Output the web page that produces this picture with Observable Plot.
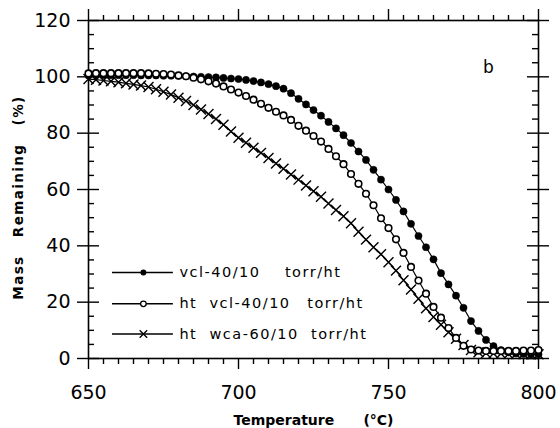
<!DOCTYPE html>
<html>
<head>
<meta charset="utf-8">
<script src="https://cdn.jsdelivr.net/npm/d3@7"></script>
<script src="https://cdn.jsdelivr.net/npm/@observablehq/plot@0.6"></script>
<style>
  html, body { margin: 0; padding: 0; background: #fff; }
  #chart svg { display: block; }
  #chart svg g[font-size="14.5"] text { letter-spacing: 1.5px; }
  #chart svg g[font-size="13.5"] text { letter-spacing: 1.4px; }
</style>
</head>
<body>
<div id="chart"></div>
<script>
// Temperatures (°C) at which the curves are sampled
const temps = [650, 652.5, 655, 657.5, 660, 662.5, 665, 667.5, 670, 672.5,
  675, 677.5, 680, 682.5, 685, 687.5, 690, 692.5, 695, 697.5,
  700, 702.5, 705, 707.5, 710, 712.5, 715, 717.5, 720, 722.5,
  725, 727.5, 730, 732.5, 735, 737.5, 740, 742.5, 745, 747.5,
  750, 752.5, 755, 757.5, 760, 762.5, 765, 767.5, 770, 772.5,
  775, 777.5, 780, 782.5, 785, 787.5, 790, 792.5, 795, 797.5, 800];

// Mass remaining (%) — vcl-40/10 torr/ht (filled circles)
const massVcl = [100.5, 100.6, 100.6, 100.6, 100.6, 100.6, 100.6, 100.5, 100.5, 100.5,
  100.4, 100.4, 100.3, 100.2, 100.1, 100.0, 99.9, 99.8, 99.6, 99.4,
  99.2, 98.9, 98.5, 98.0, 97.4, 96.7, 95.8, 94.2, 92.2, 90.2,
  88.2, 86.2, 84.0, 81.7, 79.3, 76.5, 73.5, 70.5, 67.0, 63.5,
  60.0, 56.3, 52.2, 47.8, 43.5, 39.5, 35.2, 30.3, 26.3, 22.3,
  18.0, 13.3, 9.8, 6.6, 4.4, 3.0, 2.2, 1.8, 1.6, 1.5, 1.5];

// Mass remaining (%) — ht vcl-40/10 torr/ht (open circles)
const massHtVcl = [101.2, 101.3, 101.3, 101.3, 101.3, 101.3, 101.3, 101.3, 101.2, 101.1,
  101.0, 100.8, 100.5, 100.2, 99.7, 99.1, 98.4, 97.6, 96.6, 95.5,
  94.4, 93.2, 91.9, 90.4, 89.0, 87.6, 86.3, 84.7, 82.6, 80.9,
  79.0, 77.0, 74.4, 71.8, 69.0, 65.5, 62.0, 58.5, 54.4, 49.8,
  46.3, 42.3, 37.5, 32.5, 27.7, 23.0, 18.3, 14.5, 10.8, 7.3,
  4.5, 3.2, 2.8, 2.7, 2.7, 2.7, 2.7, 2.7, 2.8, 2.8, 3.0];

// Mass remaining (%) — ht wca-60/10 torr/ht (crosses)
const massHtWca = [99.2, 99.0, 98.7, 98.4, 98.1, 97.7, 97.3, 96.9, 96.4, 95.6,
  94.7, 93.7, 92.6, 91.4, 90.0, 88.4, 86.8, 85.0, 83.0, 80.6,
  78.4, 76.6, 74.8, 73.0, 71.2, 69.2, 67.4, 65.3, 63.5, 61.4,
  59.4, 57.4, 55.0, 52.7, 50.5, 48.0, 45.0, 42.2, 39.5, 37.0,
  34.2, 31.2, 27.8, 24.5, 21.2, 17.8, 14.7, 12.0, 9.3, 7.0,
  4.8, 3.0, 2.2, 1.9, 1.8, 1.7, 1.6, 1.6, 1.5, 1.5, 1.5];

// Tick values
const xMajor = [650, 700, 750, 800];
const xMinor = [655, 660, 665, 670, 675, 680, 685, 690, 695, 705, 710, 715, 720, 725, 730, 735, 740, 745,
  755, 760, 765, 770, 775, 780, 785, 790, 795];
const yMajor = [0, 20, 40, 60, 80, 100, 120];
const yMinor = [5, 10, 15, 25, 30, 35, 45, 50, 55, 65, 70, 75, 85, 90, 95, 105, 110, 115];

// Legend labels (non-breaking spaces keep the wide gaps of the original)
const NB = "\u00a0", TH = "\u2009";
const legendLabels = [
  "vcl-40/10" + NB.repeat(4) + "torr/ht",
  "ht" + NB.repeat(2) + "vcl-40/10" + NB.repeat(2) + TH + "torr/ht",
  "ht" + NB.repeat(2) + "wca-60/10" + NB.repeat(2) + "torr/ht"
];
const xTitle = "Temperature" + NB.repeat(6) + "(°C)";
const yTitle = "Mass" + NB.repeat(3) + "Remaining" + NB.repeat(3) + "(%)";
const panelLabel = "b";

// ---- layout ----
const W = 560, H = 428;
const mL = 88, mR = 22, mT = 20, mB = 70;
const pw = W - mL - mR, ph = H - mT - mB;

const rows = (vals) => temps.map((t, i) => ({t, v: vals[i]}));
const dA = rows(massVcl), dB = rows(massHtVcl), dC = rows(massHtWca);

// legend layout (data units of the chart)
const legY = [30.5, 19.4, 8.7];
const legX1 = 658, legX2 = 678.3, legXm = 668.3, legXt = 680.3;
const legLines = legY.map(y => ({y}));
const legText = legendLabels.map((s, i) => ({s, y: legY[i]}));

const tickStyle = {stroke: "black", strokeWidth: 1.4};

const chart = Plot.plot({
  width: W, height: H,
  marginLeft: mL, marginRight: mR, marginTop: mT, marginBottom: mB,
  style: {fontFamily: "DejaVu Sans, sans-serif", background: "white", color: "black"},
  x: {domain: [650, 800], axis: null},
  y: {domain: [0, 120], axis: null},
  marks: [
    Plot.frame({stroke: "black", strokeWidth: 1.6}),
    // minor ticks
    Plot.tickX(xMinor, {x: d => d, insetTop: ph, insetBottom: -6, ...tickStyle}),
    Plot.tickX(xMinor, {x: d => d, insetTop: -5, insetBottom: ph, ...tickStyle}),
    Plot.tickY(yMinor, {y: d => d, insetLeft: 0, insetRight: pw - 6, ...tickStyle}),
    Plot.tickY(yMinor, {y: d => d, insetLeft: pw - 6, insetRight: 0, ...tickStyle}),
    // major ticks
    Plot.tickX(xMajor, {x: d => d, insetTop: ph, insetBottom: -11, ...tickStyle}),
    Plot.tickX(xMajor, {x: d => d, insetTop: -11, insetBottom: ph, ...tickStyle}),
    Plot.tickY(yMajor, {y: d => d, insetLeft: -11, insetRight: pw - 11, ...tickStyle}),
    Plot.tickY(yMajor, {y: d => d, insetLeft: pw - 11, insetRight: -11, ...tickStyle}),
    // tick labels
    Plot.axisX({ticks: xMajor, tickSize: 0, tickPadding: 27, fontSize: 19, label: null, tickFormat: d => String(d)}),
    Plot.axisY({ticks: yMajor, tickSize: 0, tickPadding: 18, fontSize: 19, label: null, tickFormat: d => String(d)}),
    // axis titles
    Plot.text([xTitle], {text: d => d, frameAnchor: "bottom", textAnchor: "middle", lineAnchor: "bottom", dy: 66, fontWeight: "bold", fontSize: 14}),
    Plot.text([yTitle], {text: d => d, frameAnchor: "left", textAnchor: "middle", rotate: -90, dx: -70, dy: 8, lineAnchor: "middle", fontWeight: "bold", fontSize: 13.5}),
    // series
    Plot.line(dC, {x: "t", y: "v", stroke: "black", strokeWidth: 1.2}),
    Plot.dot(dC, {x: "t", y: "v", symbol: "times", r: 4.6, stroke: "black", strokeWidth: 1.4}),
    Plot.line(dA, {x: "t", y: "v", stroke: "black", strokeWidth: 1.2}),
    Plot.dot(dA, {x: "t", y: "v", r: 3.6, fill: "black", stroke: "black", strokeWidth: 0.5}),
    Plot.line(dB, {x: "t", y: "v", stroke: "black", strokeWidth: 1.2}),
    Plot.dot(dB, {x: "t", y: "v", r: 3.3, fill: "white", stroke: "black", strokeWidth: 1.6}),
    // legend
    Plot.ruleY(legLines, {y: "y", x1: legX1, x2: legX2, stroke: "black", strokeWidth: 1.5}),
    Plot.dot([legLines[0]], {x: legXm, y: "y", r: 3, fill: "black"}),
    Plot.dot([legLines[1]], {x: legXm, y: "y", r: 2.8, fill: "white", stroke: "black", strokeWidth: 1.3}),
    Plot.dot([legLines[2]], {x: legXm, y: "y", symbol: "times", r: 3.5, stroke: "black", strokeWidth: 1.3}),
    Plot.text(legText, {x: legXt, y: "y", text: "s", textAnchor: "start", fontSize: 14.5}),
    // panel label
    Plot.text([panelLabel], {x: 783.3, y: 101.5, text: d => d, lineAnchor: "bottom", fontSize: 17})
  ]
});
document.getElementById("chart").appendChild(chart);
</script>
</body>
</html>
